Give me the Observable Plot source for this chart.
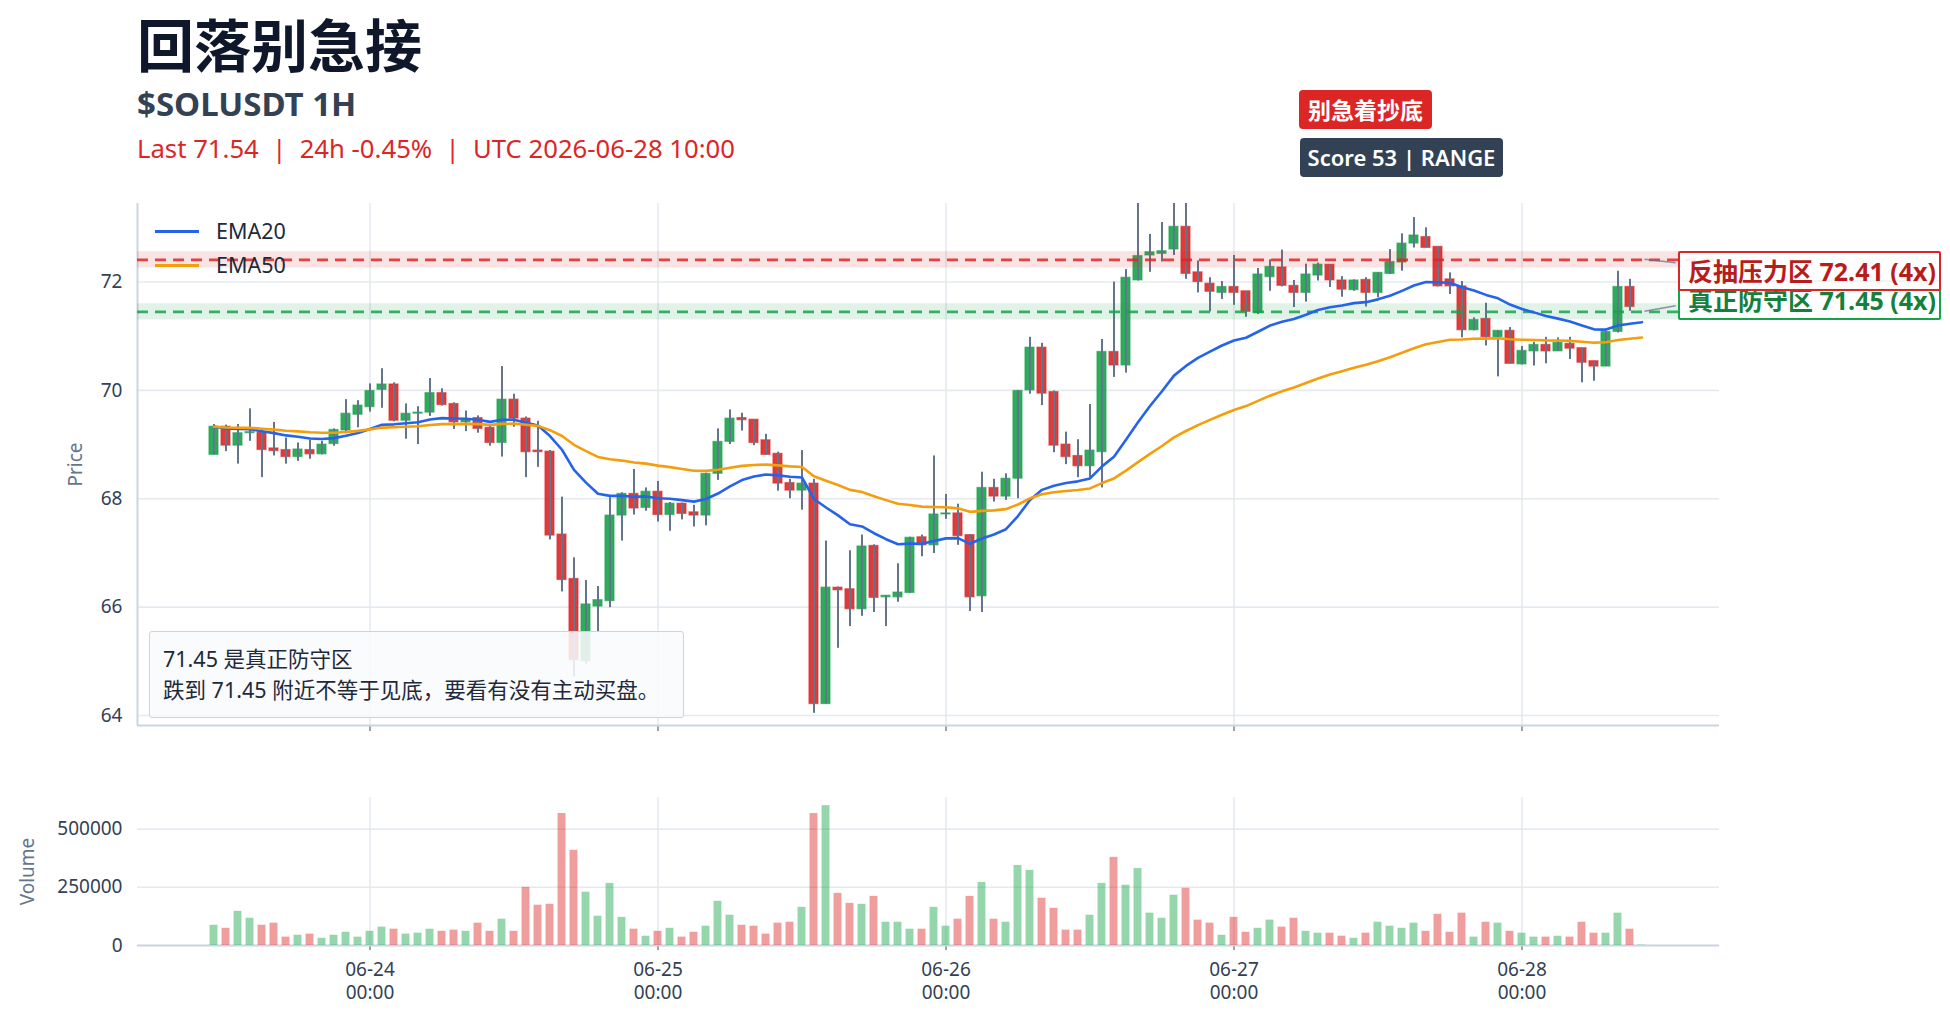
<!DOCTYPE html>
<html><head><meta charset="utf-8">
<script src="https://cdn.jsdelivr.net/npm/d3@7"></script>
<script src="https://cdn.jsdelivr.net/npm/@observablehq/plot@0.6"></script>
<style>
body{margin:0;background:#fff;font-family:"Noto Sans","Noto Sans CJK SC",sans-serif;}
#root{position:relative;width:1950px;height:1022px;overflow:hidden;background:#fff;}
.abs{position:absolute;white-space:nowrap;}
#root svg{position:absolute;left:0;}
</style></head><body><div id="root"></div>
<script>
// ---------- data ----------
const title = "回落别急接";
const subtitle = "$SOLUSDT 1H";
const infoLine = "Last 71.54  |  24h -0.45%  |  UTC 2026-06-28 10:00";
const badgeSignal = "别急着抄底";
const badgeScore = "Score 53 | RANGE";
const noteLines = ["71.45 是真正防守区", "跌到 71.45 附近不等于见底，要看有没有主动买盘。"];
const startUTC = "2026-06-23T11:00:00Z";

const opens = [68.81,69.33,68.98,69.21,69.22,68.93,68.90,68.77,68.90,68.82,69.01,69.26,69.55,69.69,70.01,70.11,69.44,69.57,69.59,69.95,
69.75,69.41,69.49,69.31,69.03,69.83,69.48,68.89,68.87,67.34,66.52,65.00,66.01,66.11,67.69,68.09,67.83,68.13,67.70,67.91,
67.75,67.69,68.46,69.05,69.49,69.46,69.08,68.83,68.29,68.15,68.28,64.21,66.36,66.33,65.96,67.13,66.18,66.18,66.26,67.29,
67.14,67.71,67.73,67.33,66.20,68.20,68.04,68.37,70.00,70.79,69.97,69.00,68.79,68.60,68.86,70.71,70.46,72.03,72.49,72.52,
72.60,73.02,72.18,71.97,71.80,71.91,71.83,71.43,72.09,72.27,71.93,71.80,72.12,72.32,72.03,71.85,72.04,71.80,72.15,72.36,
72.71,72.83,72.65,72.05,71.92,71.11,71.32,70.98,71.10,70.48,70.72,70.84,70.72,70.86,70.78,70.54,70.44,71.08,71.91,71.54];
const highs = [69.37,69.36,69.37,69.66,69.23,69.41,69.12,69.03,69.08,69.06,69.29,69.83,69.81,70.12,70.40,70.14,69.75,69.70,70.22,70.03,
69.77,69.62,69.53,69.34,70.44,69.93,69.51,69.43,68.89,68.03,66.91,66.49,66.38,68.02,68.11,68.54,68.20,68.32,67.93,67.92,
67.88,68.47,69.29,69.64,69.58,69.46,69.19,68.86,68.36,68.89,68.36,67.22,66.37,67.04,67.33,67.15,66.21,66.80,67.29,67.33,
68.79,68.08,67.90,67.34,68.49,68.36,68.46,70.00,70.98,70.87,69.99,69.23,69.09,69.74,70.94,72.00,72.23,73.60,72.88,73.10,
73.60,73.60,72.39,72.08,72.01,72.49,71.83,72.25,72.41,72.59,72.03,72.33,72.35,72.32,72.10,72.04,72.08,72.17,72.60,72.89,
73.19,73.00,72.65,72.17,72.01,71.34,71.61,71.10,71.16,70.81,70.89,70.98,70.97,70.98,70.78,70.54,71.08,72.20,72.05,71.54];
const lows = [68.81,68.87,68.64,69.06,68.39,68.79,68.64,68.69,68.73,68.81,68.97,69.20,69.31,69.60,69.67,69.42,69.10,69.00,69.52,69.71,
69.28,69.24,69.21,68.97,68.77,69.32,68.39,68.58,67.24,66.28,64.71,64.95,65.55,65.99,67.22,67.70,67.77,67.57,67.40,67.61,
67.48,67.50,68.34,69.00,69.25,68.98,68.80,68.14,68.00,67.79,64.04,64.21,65.24,65.64,65.83,65.90,65.64,66.09,66.26,66.93,
66.99,67.62,67.14,65.92,65.90,67.94,67.97,68.00,69.93,69.72,68.85,68.63,68.39,68.39,68.20,70.24,70.32,72.02,72.18,72.37,
72.49,72.05,71.80,71.45,71.68,71.57,71.35,71.40,71.83,71.91,71.53,71.63,72.02,71.90,71.72,71.83,71.54,71.71,72.14,72.20,
72.63,72.63,71.91,71.77,70.97,71.10,70.82,70.25,70.49,70.47,70.45,70.49,70.72,70.57,70.14,70.17,70.44,71.06,71.46,71.54];
const closes = [69.33,68.98,69.21,69.23,68.90,68.88,68.77,68.91,68.82,69.00,69.27,69.57,69.72,69.99,70.11,69.44,69.57,69.59,69.95,69.73,
69.41,69.45,69.29,69.03,69.83,69.48,68.86,68.86,67.32,66.50,65.02,66.05,66.13,67.69,68.09,67.82,68.13,67.70,67.91,67.72,
67.69,68.46,69.05,69.48,69.45,69.03,68.81,68.28,68.15,68.28,64.21,66.36,66.31,65.96,67.12,66.17,66.21,66.27,67.28,67.14,
67.71,67.73,67.31,66.18,68.20,68.04,68.37,69.99,70.79,69.94,68.98,68.77,68.60,68.89,70.71,70.46,72.08,72.48,72.55,72.57,
73.02,72.15,72.00,71.82,71.91,71.80,71.45,72.14,72.28,71.93,71.80,72.14,72.32,72.03,71.86,72.03,71.80,72.17,72.37,72.71,
72.86,72.63,71.92,71.92,71.11,71.30,70.98,71.10,70.49,70.73,70.84,70.72,70.88,70.77,70.51,70.44,71.08,71.91,71.54,71.54];
const volumes = [87000,74000,147000,117000,87000,96000,36000,44000,49000,31000,44000,57000,36000,61000,79000,70000,49000,53000,70000,61000,
66000,61000,96000,61000,113000,61000,250000,173000,177000,567000,409000,229000,126000,267000,121000,70000,40000,61000,74000,36000,
57000,83000,190000,130000,87000,83000,49000,96000,100000,164000,567000,601000,224000,181000,177000,211000,100000,100000,70000,70000,
164000,83000,113000,211000,271000,113000,100000,344000,323000,203000,160000,66000,66000,130000,267000,379000,259000,331000,139000,117000,
216000,246000,109000,96000,44000,121000,57000,74000,109000,79000,117000,61000,53000,53000,40000,31000,53000,100000,83000,74000,
96000,61000,134000,57000,139000,36000,100000,96000,61000,53000,36000,36000,40000,36000,100000,53000,53000,139000,70000,1500];

const zoneNames = ["真正防守区", "反抽压力区"];
const zoneLevels = [71.45, 72.41];
const zoneHits = ["4x", "4x"];
const zoneHalfWidth = 0.15;
const emaPeriods = [20, 50];

const priceTicks = [64, 66, 68, 70, 72];
const volumeTicks = [0, 250000, 500000];
const dayTickLabels = ["2026-06-24", "2026-06-25", "2026-06-26", "2026-06-27", "2026-06-28"];
const xDomainUTC = ["2026-06-23T04:37:30Z", "2026-06-28T16:27:36Z"];
const priceDomain = [63.815, 73.45];
const volumeDomain = [0, 636000];

// ---------- derived ----------
const HOUR = 3600e3;
const t0 = Date.parse(startUTC);
const candles = opens.map((o, i) => ({
  t: new Date(t0 + i * HOUR), o, h: highs[i], l: lows[i], c: closes[i], v: volumes[i], up: closes[i] >= o
}));
function ema(vals, n) { const a = 2 / (n + 1); let e = vals[0]; return vals.map((v, i) => (i === 0 ? e = v : e = a * v + (1 - a) * e)); }
const ema20 = ema(closes, emaPeriods[0]);
const ema50 = ema(closes, emaPeriods[1]);
const emaRows = candles.flatMap((d, i) => [{t: d.t, v: ema20[i], s: "EMA20"}, {t: d.t, v: ema50[i], s: "EMA50"}]);
const dayTicks = dayTickLabels.map(s => new Date(s + "T00:00:00Z"));
const xDomain = xDomainUTC.map(s => new Date(s));
const zones = zoneLevels.map((lv, i) => ({name: zoneNames[i], level: lv, hits: zoneHits[i], lo: lv - zoneHalfWidth, hi: lv + zoneHalfWidth, kind: i === 0 ? "support" : "resistance"}));

const RED = "#dc2626", GREEN = "#16a34a", BLUE = "#2563eb", ORANGE = "#f59e0b";
const GRID = "#e6eaf0", AXIS = "#cbd5e1", TXT = "#334155";
const FONT = '"Noto Sans","Noto Sans CJK SC",sans-serif';
const root = document.getElementById("root");

function addDiv(html, css) { const d = document.createElement("div"); d.className = "abs"; d.innerHTML = html; Object.assign(d.style, css); root.appendChild(d); return d; }

// ---------- price panel ----------
const PTOP = 180;
const price = Plot.plot({
  width: 1950, height: 580,
  marginLeft: 137, marginRight: 231, marginTop: 23, marginBottom: 35,
  x: {type: "utc", domain: xDomain},
  y: {domain: priceDomain},
  style: {fontFamily: FONT, fontSize: "19px", color: TXT, background: "transparent", overflow: "visible"},
  marks: [
    Plot.gridY({ticks: priceTicks, stroke: GRID, strokeOpacity: 1, strokeWidth: 1.6}),
    Plot.gridX({ticks: dayTicks, stroke: GRID, strokeOpacity: 1, strokeWidth: 1.6}),
    Plot.axisY({ticks: priceTicks, tickSize: 0, tickPadding: 15, label: null, fontSize: 19, fill: TXT}),
    Plot.axisX({ticks: dayTicks, tickSize: 6, tickFormat: () => "", label: null, stroke: "#444"}),
    Plot.ruleY([priceDomain[0]], {stroke: AXIS, strokeWidth: 2}),
    Plot.ruleX([xDomain[0]], {stroke: AXIS, strokeWidth: 2}),
    Plot.text(["Price"], {frameAnchor: "left", textAnchor: "middle", dx: -62, rotate: -90, fontSize: 19, fill: "#64748b"}),
    Plot.rect(candles, {
      x1: d => new Date(+d.t - 0.38 * HOUR), x2: d => new Date(+d.t + 0.38 * HOUR),
      y1: d => Math.min(d.o, d.c), y2: d => Math.max(d.o, d.c),
      fill: d => d.up ? GREEN : RED, fillOpacity: 0.9,
      stroke: d => d.up ? GREEN : RED, strokeOpacity: 0.55, strokeWidth: 1.2, clip: true
    }),
    Plot.ruleX(candles, {x: "t", y1: "l", y2: "h", stroke: "#64748b", strokeWidth: 2, clip: true}),
    Plot.rect(zones, {x1: xDomain[0], x2: xDomain[1], y1: "lo", y2: "hi", fill: d => d.kind === "support" ? GREEN : RED, fillOpacity: 0.13}),
    Plot.ruleY(zones, {y: "level", stroke: d => d.kind === "support" ? GREEN : RED, strokeOpacity: 0.85, strokeWidth: 2.6, strokeDasharray: "11,7"}),
    Plot.line(emaRows, {x: "t", y: "v", z: "s", stroke: d => d.s === "EMA20" ? BLUE : ORANGE, strokeWidth: 2.6})
  ]
});
price.style.top = PTOP + "px";
root.appendChild(price);

// connectors from last bar to zone labels (using the chart's scales)
const xs = price.scale("x"), ys = price.scale("y");
const lastT = +candles[candles.length - 1].t;
const svgP = d3.select(price);
zones.forEach(z => {
  const yl = ys.apply(z.level);
  const yEnd = z.kind === "support" ? yl - 5.5 : yl + 3.5;
  svgP.append("line")
    .attr("x1", xs.apply(new Date(lastT + 0.25 * HOUR))).attr("y1", yl)
    .attr("x2", xs.apply(new Date(lastT + 2.85 * HOUR))).attr("y2", yEnd)
    .attr("stroke", "#64748b").attr("stroke-opacity", 0.75).attr("stroke-width", 1.5);
});

// ---------- volume panel ----------
const VTOP = 777;
const volume = Plot.plot({
  width: 1950, height: 245,
  marginLeft: 137, marginRight: 231, marginTop: 20, marginBottom: 77,
  x: {type: "utc", domain: xDomain},
  y: {domain: volumeDomain},
  style: {fontFamily: FONT, fontSize: "19px", color: TXT, background: "transparent", overflow: "visible"},
  marks: [
    Plot.gridY({ticks: volumeTicks, stroke: GRID, strokeOpacity: 1, strokeWidth: 1.6}),
    Plot.gridX({ticks: dayTicks, stroke: GRID, strokeOpacity: 1, strokeWidth: 1.6}),
    Plot.axisY({ticks: volumeTicks, tickSize: 0, tickPadding: 15, label: null, tickFormat: d3.format("d"), fontSize: 19, fill: TXT}),
    Plot.axisX({ticks: dayTicks, tickSize: 5, tickPadding: 8, label: null, stroke: "#444", fill: TXT, fontSize: 19, lineHeight: 1.26,
      tickFormat: d => d3.utcFormat("%m-%d")(d) + "\n" + d3.utcFormat("%H:%M")(d)}),
    Plot.ruleY([volumeDomain[0]], {stroke: AXIS, strokeWidth: 2.2}),
    Plot.text(["Volume"], {frameAnchor: "left", textAnchor: "middle", dx: -110, rotate: -90, fontSize: 19, fill: "#64748b"}),
    Plot.rect(candles, {
      x1: d => new Date(+d.t - 0.33 * HOUR), x2: d => new Date(+d.t + 0.33 * HOUR),
      y1: 0, y2: "v", fill: d => d.up ? GREEN : RED, fillOpacity: 0.45
    })
  ]
});
volume.style.top = VTOP + "px";
root.appendChild(volume);

// ---------- header ----------
addDiv(title, {left: "137px", top: "10px", fontSize: "57px", fontWeight: "700", color: "#0f172a", lineHeight: "64px", fontFamily: '"Noto Sans CJK SC",sans-serif'});
addDiv(subtitle, {left: "137px", top: "84px", fontSize: "33px", fontWeight: "700", color: TXT, lineHeight: "40px"});
addDiv(infoLine.replace(/ /g, "&nbsp;"), {left: "137px", top: "133px", fontSize: "25.7px", color: RED, lineHeight: "32px"});

addDiv(badgeSignal, {left: "1299px", top: "90px", width: "133px", height: "39px", lineHeight: "39px", textAlign: "center",
  background: RED, color: "#fff", fontSize: "23px", fontWeight: "700", borderRadius: "4px", fontFamily: '"Noto Sans CJK SC",sans-serif'});
addDiv(badgeScore, {left: "1300px", top: "138px", width: "203px", height: "39px", lineHeight: "39px", textAlign: "center",
  background: TXT, color: "#fff", fontSize: "22px", fontWeight: "600", borderRadius: "4px"});

// legend
[["EMA20", BLUE, 231], ["EMA50", ORANGE, 265]].forEach(([name, col, y]) => {
  addDiv("", {left: "155px", top: (y - 1.5) + "px", width: "44px", height: "3px", background: col});
  addDiv(name, {left: "216px", top: (y - 14) + "px", fontSize: "21.5px", lineHeight: "28px", color: "#1e293b"});
});

// zone labels (support first, resistance drawn on top as in the reference)
zones.forEach(z => {
  const yl = PTOP + ys.apply(z.level);
  const cy = z.kind === "support" ? yl - 11 : yl + 12;
  const col = z.kind === "support" ? GREEN : RED;
  const tcol = z.kind === "support" ? "#15803d" : "#b91c1c";
  addDiv(`${z.name} ${z.level.toFixed(2)} (${z.hits})`, {
    left: "1678px", top: (cy - 20) + "px", width: "263px", height: "40px", boxSizing: "border-box",
    border: `2px solid ${col}`, background: "rgba(255,255,255,0.92)", color: tcol, fontSize: "25px", fontWeight: "700",
    lineHeight: "36px", paddingLeft: "8px", borderRadius: "2px", fontFamily: '"Noto Sans","Noto Sans CJK SC",sans-serif'
  });
});

// note box
addDiv(noteLines.join("<br>"), {
  left: "149px", top: "631px", width: "535px", height: "87px", boxSizing: "border-box",
  background: "rgba(248,250,252,0.88)", border: "1.5px solid #cbd5e1", borderRadius: "3px",
  padding: "11px 0 0 13px", fontSize: "21.5px", lineHeight: "31px", color: "#1e293b"
});
</script></body></html>
